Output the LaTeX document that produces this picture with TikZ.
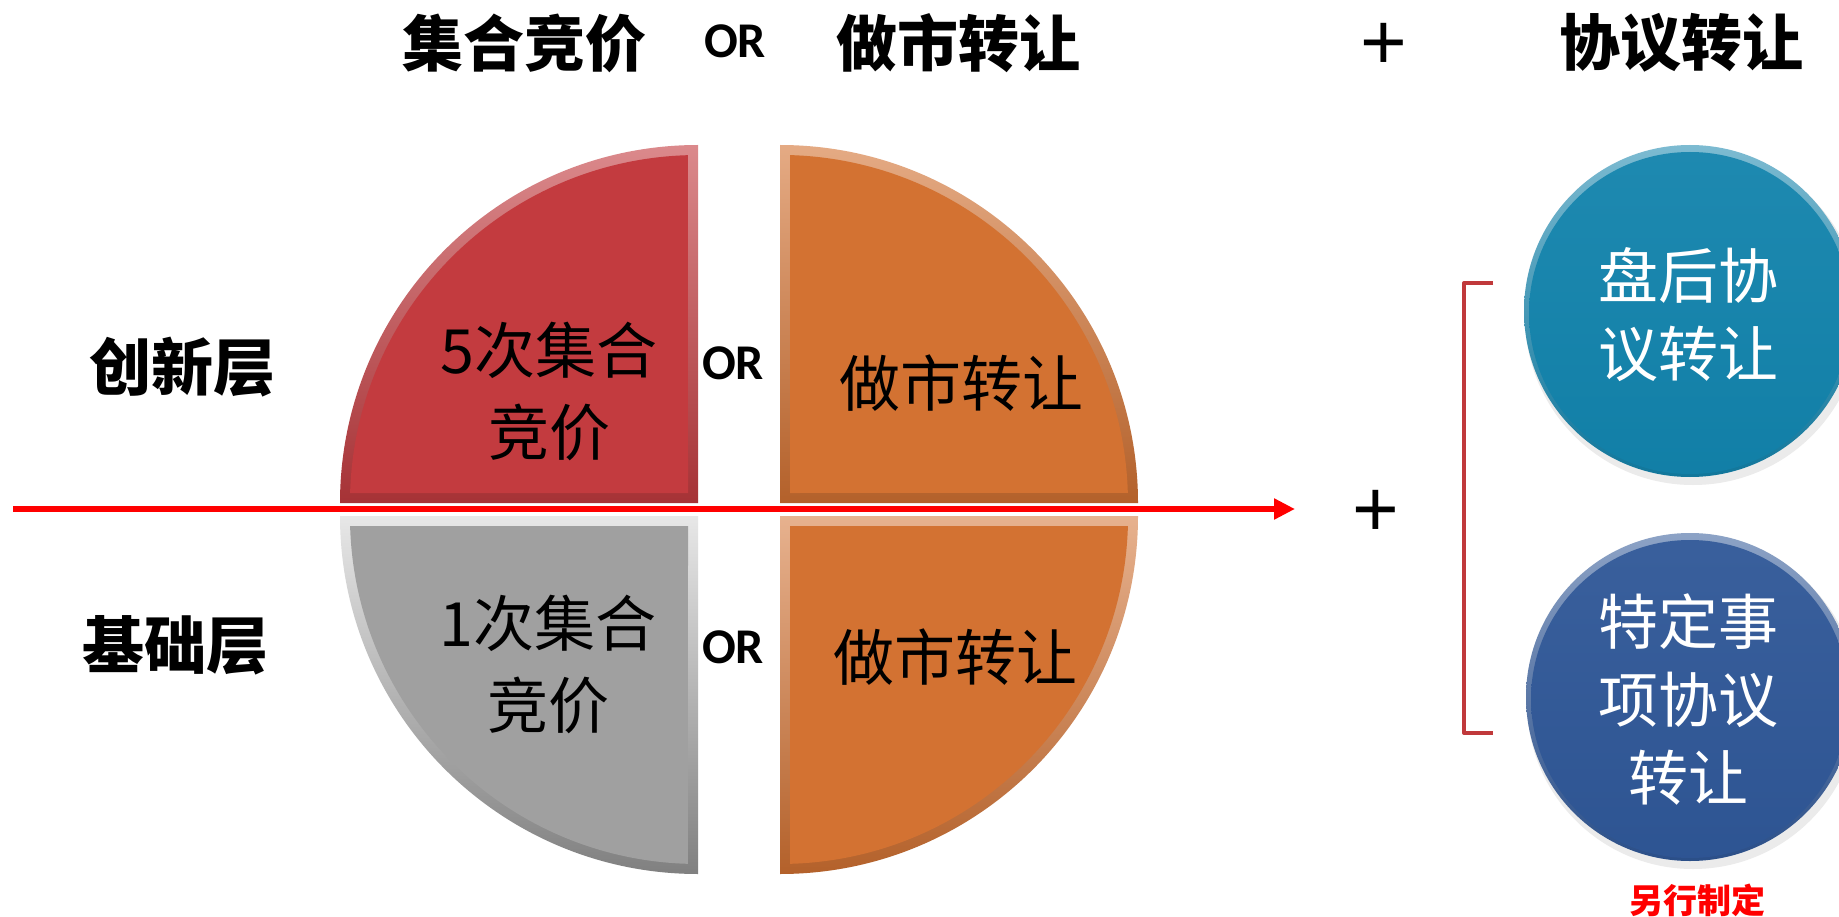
\documentclass[tikz,border=0pt]{standalone}
\usepackage{fontspec}
\newfontfamily\cjk{Noto Sans CJK SC}
\newfontfamily\latb{Carlito}
\newfontfamily\plusfont{Liberation Sans}
\usetikzlibrary{arrows.meta}
\definecolor{qred}{HTML}{C33B3F}
\definecolor{qorange}{HTML}{D37232}
\definecolor{qgray}{HTML}{A0A0A0}
\definecolor{cblue}{HTML}{1283AC}
\definecolor{cnavy}{HTML}{2F5797}
\definecolor{brk}{HTML}{C0393B}
\definecolor{arrred}{HTML}{FF0000}
\begin{document}
\begin{tikzpicture}[x=1pt,y=-1pt,
  titletext/.style={font=\cjk\bfseries\fontsize{61}{66}\selectfont, inner sep=0pt},
  ortext/.style={font=\latb\bfseries\fontsize{50}{54}\selectfont, inner sep=0pt},
  quartertext/.style={font=\cjk\fontsize{61}{82}\selectfont, align=center, inner sep=0pt},
  circletext/.style={font=\cjk\fontsize{60}{78}\selectfont, align=center, text=white, inner sep=0pt},
  layertext/.style={font=\cjk\bfseries\fontsize{62}{66}\selectfont, inner sep=0pt},
  plussign/.style={font=\plusfont\fontsize{80}{80}\selectfont, inner sep=0pt},
  notetext/.style={font=\cjk\bfseries\fontsize{34}{40}\selectfont, text=arrred, inner sep=0pt},
]
\fill[white] (0,0) rectangle (1839,917);
\clip (0,0) rectangle (1839,917);

% ---- titles
\node[titletext] (t1) at (524,43) {集合竞价};
\node[ortext] (tor) at (735,41) {OR};
\node[titletext] (t2) at (958,43) {做市转让};
\node[plussign] (tplus) at (1384,46) {+};
\node[titletext] (t3) at (1681,43) {协议转让};

% ---- quarter pieces (outer bevel ring, then inner face)
% top-left red
\shade[top color=qred!60!white, bottom color=qred!85!black]
  (698,503) -- (340,503) arc[start angle=180,end angle=270,radius=358] -- cycle;
\fill[qred] (688,493) -- (350.1,493) arc[start angle=181.65,end angle=268.35,radius=348] -- cycle;
% top-right orange
\shade[top color=qorange!60!white, bottom color=qorange!85!black]
  (780,503) -- (780,145) arc[start angle=270,end angle=360,radius=358] -- cycle;
\fill[qorange] (790,493) -- (790,155.1) arc[start angle=271.65,end angle=358.35,radius=348] -- cycle;
% bottom-left gray
\shade[top color=qgray!25!white, bottom color=qgray!80!black]
  (698,516) -- (340,516) arc[start angle=180,end angle=90,radius=358] -- cycle;
\fill[qgray] (688,526) -- (350.1,526) arc[start angle=178.35,end angle=91.65,radius=348] -- cycle;
% bottom-right orange
\shade[top color=qorange!55!white, bottom color=qorange!85!black]
  (780,516) -- (1138,516) arc[start angle=0,end angle=90,radius=358] -- cycle;
\fill[qorange] (790,526) -- (1127.9,526) arc[start angle=1.65,end angle=88.35,radius=348] -- cycle;

% ---- texts in pieces
\node[quartertext] (q1) at (549,391) {5次集合\\竞价};
\node[quartertext] (q2) at (961,383) {做市转让};
\node[quartertext] (q3) at (548,664) {1次集合\\竞价};
\node[quartertext] (q4) at (955,657) {做市转让};
\node[ortext] (or1) at (733,363) {OR};
\node[ortext] (or2) at (733,647) {OR};

% ---- layer labels
\node[layertext] (l1) at (182,367) {创新层};
\node[layertext] (l2) at (175,645) {基础层};

% ---- red arrow
\coordinate (arrS) at (13,509);
\coordinate (arrE) at (1295,509);
\draw[arrred, line width=6.5pt, -{Triangle[length=21pt,width=20pt]}] (arrS) -- (arrE);

% ---- middle plus
\node[plussign] (mplus) at (1376,513) {+};

% ---- bracket
\coordinate (b1) at (1493,283);
\coordinate (b2) at (1464,283);
\coordinate (b3) at (1464,733);
\coordinate (b4) at (1493,733);
\draw[brk, line width=4pt, line join=round] (b1) -- (b2) -- (b3) -- (b4);

% ---- circles
\fill[black!8] (1693,317) circle[radius=168];
\shade[top color=cblue!55!white, bottom color=cblue!90!black] (1690,311) circle[radius=166];
\shade[top color=cblue!95!white, bottom color=cblue!97!black] (1690,313) circle[radius=161];
\node[circletext] (c1) at (1688,315) {盘后协\\议转让};

\fill[black!8] (1693,703) circle[radius=166];
\shade[top color=cnavy!55!white, bottom color=cnavy!90!black] (1690,697) circle[radius=164];
\shade[top color=cnavy!95!white, bottom color=cnavy!97!black] (1690,699) circle[radius=159];
\node[circletext] (c2) at (1688,700) {特定事\\项协议\\转让};

\node[notetext] (note) at (1697,900) {另行制定};
\end{tikzpicture}
\end{document}
